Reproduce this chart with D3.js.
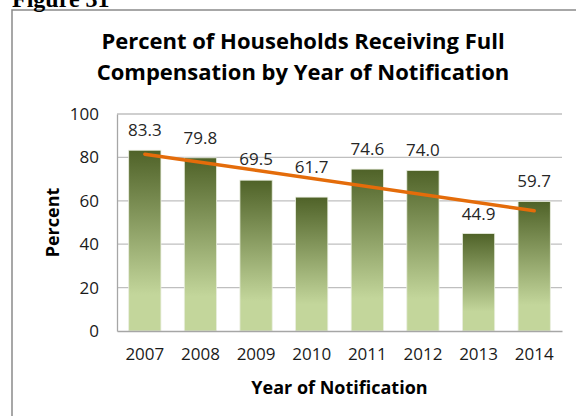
<!DOCTYPE html>
<html>
<head>
<meta charset="utf-8">
<script src="https://cdn.jsdelivr.net/npm/d3@7"></script>
<style>
  body { margin: 0; background: #fff; }
  svg { display: block; font-family: "Open Sans", sans-serif; }
  .grid line { stroke: #bfbfbf; stroke-width: 1.3; }
  .axis path, .axis line { stroke: #a6a6a6; }
  .axis text { fill: #1a1a1a; font-size: 17px; font-family: "Open Sans", sans-serif; }
</style>
</head>
<body>
<svg width="576" height="416"></svg>
<script>
var years = ["2007", "2008", "2009", "2010", "2011", "2012", "2013", "2014"];
var percents = [83.3, 79.8, 69.5, 61.7, 74.6, 74.0, 44.9, 59.7];
var yTicks = [0, 20, 40, 60, 80, 100];

var svg = d3.select("svg"),
    margin = {top: 114, right: 14, bottom: 85, left: 117},
    width = +svg.attr("width") - margin.left - margin.right,
    height = +svg.attr("height") - margin.top - margin.bottom;

var x = d3.scaleBand().domain(years).range([0, width]).paddingInner(0.42).paddingOuter(0.21),
    y = d3.scaleLinear().domain([0, 100]).range([height, 0]);

// bar gradient, dark olive on top fading to pale green
var grad = svg.append("defs").append("linearGradient")
    .attr("id", "barfill")
    .attr("x1", 0).attr("y1", 0).attr("x2", 0).attr("y2", 1);
grad.append("stop").attr("offset", "0%").attr("stop-color", "#4f6228");
grad.append("stop").attr("offset", "80%").attr("stop-color", "#c3d69b");
grad.append("stop").attr("offset", "100%").attr("stop-color", "#c3d69b");

// outer frame
svg.append("rect")
    .attr("x", 12).attr("y", 10)
    .attr("width", 620).attr("height", 460)
    .attr("fill", "none")
    .attr("stroke", "#8a8a8a")
    .attr("stroke-width", 1.5);

svg.append("text")
    .attr("x", 12).attr("y", 7)
    .style("font-family", "'Liberation Serif', serif")
    .style("font-weight", "bold")
    .style("font-size", "24px")
    .text("Figure 31");

var title = svg.append("text")
    .attr("text-anchor", "middle")
    .style("font-weight", "bold")
    .style("font-size", "22px")
    .attr("fill", "#000");
title.append("tspan").attr("x", 303).attr("y", 49).text("Percent of Households Receiving Full");
title.append("tspan").attr("x", 303).attr("y", 80).text("Compensation by Year of Notification");

var g = svg.append("g")
    .attr("transform", "translate(" + margin.left + "," + margin.top + ")");

g.append("g")
    .attr("class", "grid")
    .selectAll("line")
    .data(yTicks.filter(function(d) { return d > 0; }))
    .enter().append("line")
    .attr("x1", 0).attr("x2", width)
    .attr("y1", function(d) { return y(d); })
    .attr("y2", function(d) { return y(d); });

g.selectAll(".bar")
    .data(percents)
    .enter().append("rect")
    .attr("class", "bar")
    .attr("x", function(d, i) { return x(years[i]); })
    .attr("y", function(d) { return y(d); })
    .attr("width", x.bandwidth())
    .attr("height", function(d) { return height - y(d); })
    .attr("fill", "url(#barfill)")
    .attr("stroke", "#e9eedf")
    .attr("stroke-width", 0.8);

g.append("g")
    .attr("class", "axis axis--y")
    .call(d3.axisLeft(y).tickValues(yTicks).tickSize(0).tickPadding(18))
    .call(function(s) { s.select(".domain").attr("stroke-width", 1.3); });

g.append("g")
    .attr("class", "axis axis--x")
    .attr("transform", "translate(0," + height + ")")
    .call(d3.axisBottom(x).tickSize(0).tickPadding(17))
    .call(function(s) { s.select(".domain").attr("stroke-width", 1.3); });

// linear trend line through the bars
var xs = percents.map(function(d, i) { return i; }),
    mx = d3.mean(xs), my = d3.mean(percents),
    slope = d3.sum(xs, function(v, i) { return (v - mx) * (percents[i] - my); }) /
            d3.sum(xs, function(v) { return (v - mx) * (v - mx); }),
    icpt = my - slope * mx;

var trend = d3.line()
    .x(function(d) { return x(years[d]) + x.bandwidth() / 2; })
    .y(function(d) { return y(icpt + slope * d); });

// labels sit above each bar, lifted over the trend line when they would collide
g.selectAll(".label")
    .data(percents)
    .enter().append("text")
    .attr("class", "label")
    .attr("x", function(d, i) { return x(years[i]) + x.bandwidth() / 2; })
    .attr("y", function(d, i) {
        var base = y(d) - 14, ty = y(icpt + slope * i);
        if (base > ty - 5 && base - 13 < ty + 2) base = ty - 5;
        return base;
    })
    .attr("text-anchor", "middle")
    .attr("fill", "#262626")
    .style("font-size", "17px")
    .text(function(d) { return d.toFixed(1); });

g.append("path")
    .attr("d", trend([0, xs.length - 1]))
    .attr("fill", "none")
    .attr("stroke", "#e46c0a")
    .attr("stroke-width", 3.5)
    .attr("stroke-linecap", "round");

svg.append("text")
    .attr("x", margin.left + width / 2)
    .attr("y", 394)
    .attr("text-anchor", "middle")
    .style("font-weight", "bold")
    .style("font-size", "18px")
    .text("Year of Notification");

svg.append("text")
    .attr("transform", "translate(59," + (margin.top + height / 2) + ") rotate(-90)")
    .attr("text-anchor", "middle")
    .style("font-weight", "bold")
    .style("font-size", "18px")
    .text("Percent");
</script>
</body>
</html>
